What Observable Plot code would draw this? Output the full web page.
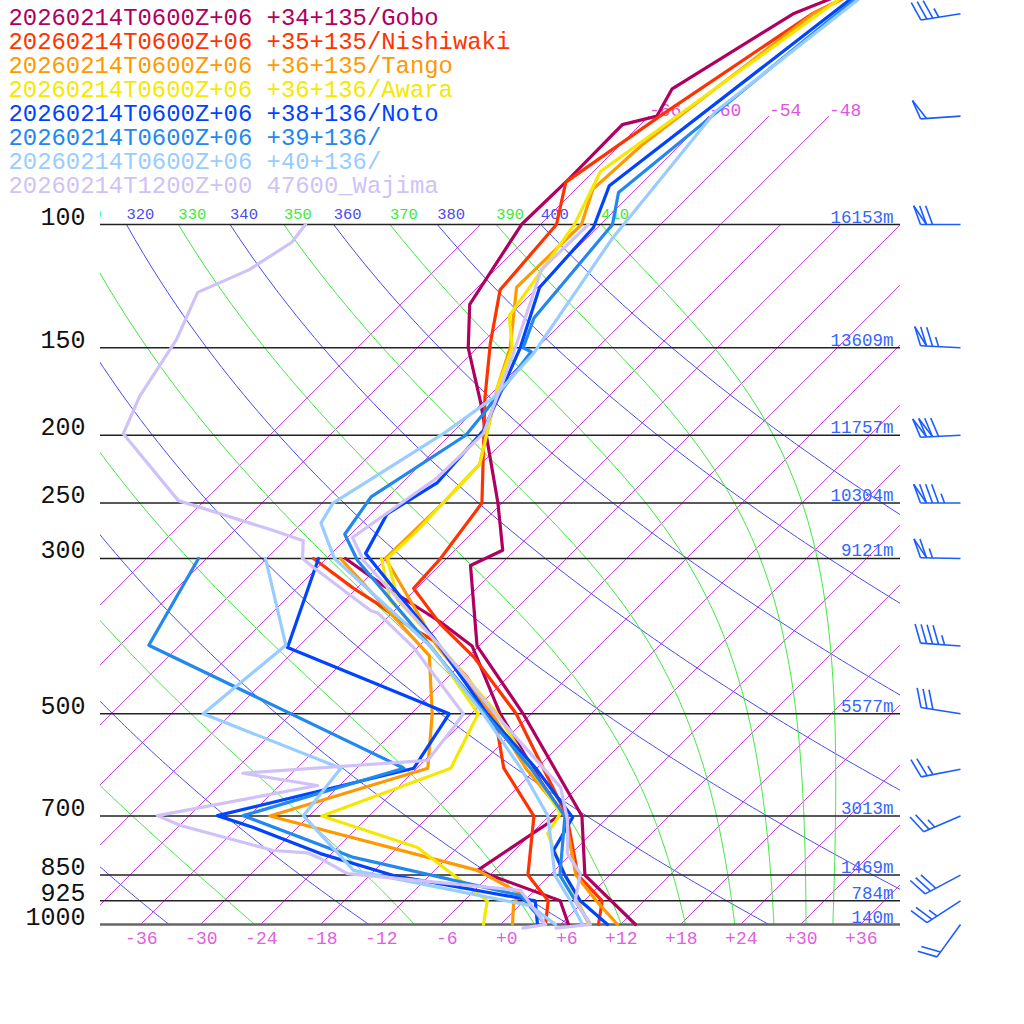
<!DOCTYPE html>
<html><head><meta charset="utf-8">
<script src="https://cdn.jsdelivr.net/npm/d3@7"></script>
<script src="https://cdn.jsdelivr.net/npm/@observablehq/plot@0.6"></script>
<style>body{margin:0;background:#fff}svg{display:block}</style>
</head><body><div id="chart"></div>
<script>
// ---------------- data ----------------
const stationLabels = [
  "20260214T0600Z+06 +34+135/Gobo",
  "20260214T0600Z+06 +35+135/Nishiwaki",
  "20260214T0600Z+06 +36+135/Tango",
  "20260214T0600Z+06 +36+136/Awara",
  "20260214T0600Z+06 +38+136/Noto",
  "20260214T0600Z+06 +39+136/",
  "20260214T0600Z+06 +40+136/",
  "20260214T1200Z+00 47600_Wajima"
];
const stationColors = ["#b0005f","#ff3300","#ff9900","#f5e800","#0044ff","#2288ee","#99ccff","#d0c2f8"];

// [pressure hPa, temperature °C]
const goboT = [[1000,13.5],[850,3.5],[700,-2.7],[500,-18.8],[400,-30.2],[307,-38.9],[292,-37.2],[250,-42.4],[180,-54.1],[150,-60.9],[130,-65.1],[100,-67.9],[86,-67.7],[72,-67.8],[70,-65.2],[64,-66.4],[50,-61.8],[47,-59]];
const goboTd = [[1000,6.8],[925,3.6],[837,-7.7],[694,-4.9],[623,-10.4],[500,-21.1],[400,-30.7],[370,-36.2],[347,-41.2],[328,-45.6],[300,-52.1]];
const nishiT = [[1000,9.8],[925,7.8],[850,2.8],[700,-4.2],[500,-19.5],[415,-29.4],[372,-36.1],[331,-42.3],[300,-42.6],[250,-44.0],[177,-54.2],[148,-59.1],[124,-63.5],[100,-64.4],[87,-67.7],[70,-64.9],[50,-59.9],[47,-58]];
const nishiTd = [[1000,4.5],[925,2.4],[850,-2.2],[700,-7.5],[598,-15.3],[533,-19.4],[506,-21.4],[444,-28.0],[393,-35.1],[368,-40.4],[348,-44.4],[331,-48.3],[300,-55.3]];
const tangoT = [[1000,11.7],[925,7.2],[850,2.6],[700,-4.4],[598,-13.1],[500,-21.9],[400,-34.2],[300,-48.1],[250,-47.9],[220,-48.1],[171,-54.0],[150,-56.7],[123,-62.1],[100,-61.9],[89,-64.3],[77,-63.8],[50,-59.8],[47,-58]];
const tangoTd = [[1000,1.2],[933,-0.8],[903,-1.1],[837,-7.7],[700,-33.9],[598,-22.9],[500,-27.9],[413,-34.0],[300,-52.6]];
const awaraT = [[1000,8.8],[925,5.4],[850,1.5],[741,-4.4],[694,-5.1],[598,-12.6],[500,-21.4],[400,-33.9],[344,-42.7],[300,-47.9],[273,-47.7],[250,-47.9],[220,-48.1],[171,-54.0],[150,-56.5],[135,-60.0],[100,-62.6],[84,-65.3],[47,-58.5]];
const awaraTd = [[1000,-1.7],[925,-3.7],[829,-11.4],[776,-16.0],[700,-28.7],[598,-20.6],[500,-23.3],[402,-34.5],[344,-43.5],[300,-48.5]];
const notoT = [[1000,10.7],[925,5.6],[850,1.5],[784,-2.1],[703,-3.5],[598,-12.1],[500,-22.4],[389,-35.4],[295,-50.6],[259,-52.4],[234,-50.5],[197,-51.1],[179,-52.7],[150,-55.7],[123,-59.8],[101,-60.4],[88,-63.0],[47,-57.4]];
const notoTd = [[1000,3.7],[925,1.1],[851,-15.6],[792,-25.1],[727,-34.4],[699,-39.2],[598,-24.3],[500,-26.2],[402,-49.0],[300,-54.8]];
const sta39T = [[1000,9.0],[925,5.1],[850,1.0],[700,-4.4],[598,-12.6],[500,-22.6],[400,-34.9],[302,-50.7],[277,-54.6],[245,-55.7],[200,-52.4],[186,-52.8],[152,-54.2],[150,-55.4],[136,-57.3],[100,-58.8],[90,-61.4],[47,-57]];
const sta39Td = [[1000,4.5],[909,-0.9],[802,-21.4],[699,-36.6],[598,-25.3],[399,-63.1],[300,-66.8]];
const sta40T = [[1000,8.2],[925,4.6],[850,0.5],[700,-6.1],[598,-13.6],[500,-22.8],[400,-34.9],[300,-53.2],[267,-58.1],[250,-58.9],[199,-54.8],[177,-53.4],[153,-53.8],[105,-57.4],[69,-59.8],[47,-56.6]];
const sta40Td = [[1000,5.5],[940,1.1],[837,-20.1],[699,-30.6],[598,-31.6],[500,-50.8],[399,-49.4],[300,-60.1]];
const wajT = [[1012,5.9],[1000,9.0],[925,5.1],[846,2.9],[792,-0.4],[710,-3.7],[637,-7.7],[500,-21.6],[400,-33.9],[302,-50.1],[280,-53.5],[230,-51.0],[199,-50.8],[153,-55.8],[116,-61.4],[100,-61.2]];
const wajTd = [[1012,2.6],[1000,4.5],[894,-1.4],[846,-20.4],[805,-24.6],[790,-26.5],[784,-30.1],[722,-41.9],[699,-45.2],[633,-32.2],[608,-40.9],[583,-23.7],[523,-24.4],[500,-24.8],[402,-36.4],[359,-43.4],[356,-44.4],[309,-54.4],[300,-56.4],[283,-58.1],[273,-62.4],[248,-74.6],[199,-86.8],[176,-88.9],[146,-90.9],[125,-93.5],[116,-90.6],[106,-89.1],[100,-89.5]];

const tempProfiles = [goboT, nishiT, tangoT, awaraT, notoT, sta39T, sta40T, wajT];
const dewProfiles = [goboTd, nishiTd, tangoTd, awaraTd, notoTd, sta39Td, sta40Td, wajTd];

const windLevels = [50,70,100,150,200,250,300,400,500,600,700,850,925,1000];
const windDir = [261,266,270,273,267,270,271,274,279,259,247,242,237,216];
const windSpeed = [35,50,70,75,120,85,65,45,30,25,25,30,25,20];

const pLevels = [100,150,200,250,300,500,700,850,925,1000];
const heightLabels = ["16153m","13609m","11757m","10304m","9121m","5577m","3013m","1469m","784m","140m"];
const tempTicks = [-36,-30,-24,-18,-12,-6,0,6,12,18,24,30,36];
const isotherms = [-72,-66,-60,-54,-48,-42,-36,-30,-24,-18,-12,-6,0,6,12,18,24,30,36];
const upperIsotherms = [-66,-60,-54,-48];
const dryThetas = [240,260,280,300,320,340,360,380,400];
const moistThetas = [250,270,290,310,330,350,370,390,410];

// ---------------- geometry ----------------
const K = 304, PX = 10;                 // px per ln(p), px per °C
const skew = p => (K / PX) * Math.log(1000 / p);
const X = (t, p) => t + skew(p);
const pTop = 1000 * Math.exp(-924 / K);
const pGrid = d3.range(1000, 99.99, -5);

// dry adiabats
const dryData = dryThetas.flatMap(th => pGrid.map(p => ({th, p, t: th * Math.pow(p / 1000, 0.2857) - 273.15})));

// pseudo-adiabats
const Rd = 287.04, Cp = 1005.7, Lv = 2.501e6, eps = 0.622;
const es = tc => 6.112 * Math.exp(17.67 * tc / (tc + 243.5));
const rs = (tk, p) => { const e = es(tk - 273.15); return eps * e / (p - e); };
const dTdp = (tk, p) => { const r = rs(tk, p); return (Rd * tk + Lv * r) / (p * (Cp + Lv * Lv * r * eps / (Rd * tk * tk))); };
const thetaE1000 = tc => { const tk = tc + 273.15, r = rs(tk, 1000) * 1000; return tk * Math.exp((3.376 / tk - 0.00254) * r * (1 + 0.00081 * r)); };
function moistProfile(te) {
  let lo = -80, hi = 50;
  for (let i = 0; i < 80; i++) { const m = (lo + hi) / 2; if (thetaE1000(m) < te) lo = m; else hi = m; }
  let T = (lo + hi) / 2 + 273.15, p = 1000;
  const pts = [{te, p, t: T - 273.15}];
  const h = -5;
  while (p > 100.01) {
    const k1 = dTdp(T, p), k2 = dTdp(T + h / 2 * k1, p + h / 2), k3 = dTdp(T + h / 2 * k2, p + h / 2), k4 = dTdp(T + h * k3, p + h);
    T += h / 6 * (k1 + 2 * k2 + 2 * k3 + k4); p += h;
    pts.push({te, p, t: T - 273.15});
  }
  return pts;
}
const moistLines = moistThetas.map(moistProfile);
const moistData = moistLines.flat();

// theta labels at 100 hPa (only those reaching into the frame)
const thetaLabels = [
  ...dryThetas.map(th => ({label: String(th), x: X(th * Math.pow(0.1, 0.2857) - 273.15, 100), fill: "#4a4aee"})),
  ...moistLines.map((pts, i) => ({label: String(moistThetas[i]), x: X(pts[pts.length - 1].t, 100), fill: "#3ee83e"}))
].filter(d => d.x > -43.5);

// wind barbs (pixel offsets from base, converted to scale units)
const barbBaseX = 46;
const barbSegs = [];
windLevels.forEach((p, i) => {
  const d = windDir[i] * Math.PI / 180, spd = windSpeed[i];
  const u = [Math.sin(d), -Math.cos(d)], pr = [-u[1], u[0]];
  const a = 20 * Math.PI / 180;
  const b = [Math.cos(a) * pr[0] + Math.sin(a) * u[0], Math.cos(a) * pr[1] + Math.sin(a) * u[1]];
  const L = 40, step = 6;
  const S = k => [(L - k * step) * u[0], (L - k * step) * u[1]];
  const seg = (P, Q) => barbSegs.push({p, a: P, b: Q});
  seg([0, 0], S(0));
  const n50 = Math.floor(spd / 50), r = spd - 50 * n50, n10 = Math.floor(r / 10), n5 = Math.round((r - 10 * n10) / 5);
  let k = 0;
  for (let j = 0; j < n50; j++) { const s0 = S(k), s1 = S(k + 1), ap = [s0[0] + 20 * b[0], s0[1] + 20 * b[1]]; seg(s0, ap); seg(ap, s1); k++; }
  for (let j = 0; j < n10; j++) { const s = S(k); seg(s, [s[0] + 20 * b[0], s[1] + 20 * b[1]]); k++; }
  for (let j = 0; j < n5; j++) { const s = S(k); seg(s, [s[0] + 10 * b[0], s[1] + 10 * b[1]]); k++; }
});

// ---------------- marks ----------------
const marks = [];
marks.push(Plot.link(isotherms, {
  x1: t => X(t, 1000), y1: () => 1000,
  x2: t => X(t, upperIsotherms.includes(t) ? 70 : 100), y2: t => upperIsotherms.includes(t) ? 70 : 100,
  stroke: "#cc44dd", strokeWidth: 1, clip: true
}));
marks.push(Plot.line(dryData, {x: d => X(d.t, d.p), y: "p", z: "th", stroke: "#4a4aee", strokeWidth: 1, clip: true}));
marks.push(Plot.line(moistData, {x: d => X(d.t, d.p), y: "p", z: "te", stroke: "#3ee83e", strokeWidth: 1, clip: true}));

marks.push(Plot.ruleY(pLevels.filter(p => p !== 1000), {y: d => d, stroke: "#222", strokeWidth: 1.5}));
marks.push(Plot.ruleY([1000], {y: d => d, stroke: "#666", strokeWidth: 2.5}));

marks.push(Plot.text(thetaLabels, {x: "x", y: () => 100, text: "label", fill: "fill", fontSize: 15.5, textAnchor: "start", lineAnchor: "bottom", dy: -6, clip: true}));
marks.push(Plot.text(upperIsotherms, {x: t => X(t, 70), y: () => 70, text: t => "-" + Math.abs(t), fill: "#e055e0", fontSize: 18, textAnchor: "start", lineAnchor: "bottom"}));
marks.push(Plot.text(pLevels, {y: d => d, text: (d, i) => heightLabels[i], frameAnchor: "right", dx: -7, dy: -2, textAnchor: "end", lineAnchor: "bottom", fill: "#3366ff", fontSize: 17.5}));

stationLabels.forEach((s, i) => {
  marks.push(Plot.line(dewProfiles[i], {x: d => X(d[1], d[0]), y: d => d[0], stroke: stationColors[i], strokeWidth: 3.2, clip: true}));
  marks.push(Plot.line(tempProfiles[i], {x: d => X(d[1], d[0]), y: d => d[0], stroke: stationColors[i], strokeWidth: 3.2, clip: true}));
});

marks.push(Plot.text(pLevels, {y: d => d, text: d => String(d), frameAnchor: "left", dx: -15, textAnchor: "end", lineAnchor: "bottom", fill: "#111", fontSize: 25}));
marks.push(Plot.text(tempTicks, {x: t => t, y: () => 1000, text: t => (t < 0 ? "-" : "+") + Math.abs(t), dx: 17, dy: 19, textAnchor: "end", lineAnchor: "bottom", fill: "#e060e0", fontSize: 18}));

marks.push(Plot.link(barbSegs, {
  x1: s => barbBaseX + s.a[0] / PX, y1: s => s.p * Math.exp(s.a[1] / K),
  x2: s => barbBaseX + s.b[0] / PX, y2: s => s.p * Math.exp(s.b[1] / K),
  stroke: "#1a5cff", strokeWidth: 1.6
}));

stationLabels.forEach((s, i) => {
  marks.push(Plot.text([s], {frameAnchor: "top-left", dx: -92, dy: 24 + 24 * i, text: d => d, fill: stationColors[i], fontSize: 23.9, textAnchor: "start", lineAnchor: "bottom"}));
});

const chart = Plot.plot({
  width: 1024, height: 1024,
  marginLeft: 100, marginRight: 124, marginTop: 0, marginBottom: 89,
  x: {domain: [-40, 40], axis: null},
  y: {type: "log", domain: [pTop, 1000], range: [0, 924], axis: null},
  style: {background: "#fff", fontFamily: "'Liberation Mono', monospace", overflow: "visible"},
  marks
});
document.getElementById("chart").append(chart);
</script>
</body></html>
